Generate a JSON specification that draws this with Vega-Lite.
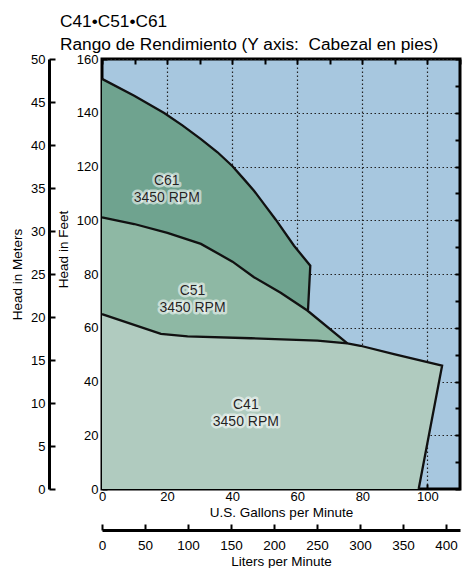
{
  "$schema": "https://vega.github.io/schema/vega-lite/v6.json",
  "width": 358,
  "height": 430,
  "padding": {"left": 10, "top": 12, "right": 5, "bottom": 5},
  "background": "white",
  "config": {
    "font": "Liberation Sans",
    "view": {"stroke": "black", "strokeWidth": 3, "fill": "#a7c7df"},
    "axis": {
      "labelFont": "Liberation Sans", "labelFontSize": 13, "labelColor": "black",
      "titleFont": "Liberation Sans", "titleFontSize": 13.5, "titleFontWeight": "normal", "titleColor": "black",
      "tickColor": "black", "tickWidth": 2, "domainColor": "black", "domainWidth": 3, "zindex": 1, "labelFlush": false
    }
  },
  "title": {
    "text": ["C41•C51•C61", "Rango de Rendimiento (Y axis:\u00a0 Cabezal en pies)"],
    "anchor": "start", "frame": "group", "dx": -42, "fontSize": 17.3, "fontWeight": "normal",
    "font": "Liberation Sans", "lineHeight": 23, "offset": 0, "color": "black"
  },
  "datasets": {
    "areas": [
      {"region": "C61", "gpm": 0, "top": 152.6, "bottom": 0},
      {"region": "C61", "gpm": 9.9, "top": 146.3, "bottom": 0},
      {"region": "C61", "gpm": 19.1, "top": 139.9, "bottom": 0},
      {"region": "C61", "gpm": 24.7, "top": 135.3, "bottom": 0},
      {"region": "C61", "gpm": 30.4, "top": 130.2, "bottom": 0},
      {"region": "C61", "gpm": 35.5, "top": 125.3, "bottom": 0},
      {"region": "C61", "gpm": 40.1, "top": 120.1, "bottom": 0},
      {"region": "C61", "gpm": 43.6, "top": 115.3, "bottom": 0},
      {"region": "C61", "gpm": 46.7, "top": 111.0, "bottom": 0},
      {"region": "C61", "gpm": 49.8, "top": 106.0, "bottom": 0},
      {"region": "C61", "gpm": 53.4, "top": 100.2, "bottom": 0},
      {"region": "C61", "gpm": 59.0, "top": 90.5, "bottom": 0},
      {"region": "C61", "gpm": 63.3, "top": 84.1, "bottom": 66.6},
      {"region": "C61", "gpm": 64.0, "top": 83.1, "bottom": 83.1},
      {"region": "C51", "gpm": 0, "top": 101.1, "bottom": 0},
      {"region": "C51", "gpm": 9.9, "top": 98.6, "bottom": 0},
      {"region": "C51", "gpm": 20.1, "top": 95.3, "bottom": 0},
      {"region": "C51", "gpm": 30.4, "top": 91.2, "bottom": 0},
      {"region": "C51", "gpm": 40.1, "top": 84.6, "bottom": 0},
      {"region": "C51", "gpm": 46.7, "top": 78.8, "bottom": 0},
      {"region": "C51", "gpm": 54.9, "top": 73.0, "bottom": 0},
      {"region": "C51", "gpm": 63.1, "top": 66.4, "bottom": 0},
      {"region": "C51", "gpm": 75.4, "top": 54.2, "bottom": 0},
      {"region": "C41", "gpm": 0, "top": 65.1, "bottom": 0},
      {"region": "C41", "gpm": 18.1, "top": 57.7, "bottom": 0},
      {"region": "C41", "gpm": 26.3, "top": 56.8, "bottom": 0},
      {"region": "C41", "gpm": 45.7, "top": 56.1, "bottom": 0},
      {"region": "C41", "gpm": 66.2, "top": 55.2, "bottom": 0},
      {"region": "C41", "gpm": 75.4, "top": 54.2, "bottom": 0},
      {"region": "C41", "gpm": 79.4, "top": 53.3, "bottom": 0},
      {"region": "C41", "gpm": 89.7, "top": 50.2, "bottom": 0},
      {"region": "C41", "gpm": 97.3, "top": 48.0, "bottom": 0},
      {"region": "C41", "gpm": 104.5, "top": 45.9, "bottom": 45.9}
    ],
    "outlines": [
      {"curve": "C61", "i": 0, "gpm": 0, "ft": 152.6},
      {"curve": "C61", "i": 1, "gpm": 9.9, "ft": 146.3},
      {"curve": "C61", "i": 2, "gpm": 19.1, "ft": 139.9},
      {"curve": "C61", "i": 3, "gpm": 24.7, "ft": 135.3},
      {"curve": "C61", "i": 4, "gpm": 30.4, "ft": 130.2},
      {"curve": "C61", "i": 5, "gpm": 35.5, "ft": 125.3},
      {"curve": "C61", "i": 6, "gpm": 40.1, "ft": 120.1},
      {"curve": "C61", "i": 7, "gpm": 43.6, "ft": 115.3},
      {"curve": "C61", "i": 8, "gpm": 46.7, "ft": 111.0},
      {"curve": "C61", "i": 9, "gpm": 49.8, "ft": 106.0},
      {"curve": "C61", "i": 10, "gpm": 53.4, "ft": 100.2},
      {"curve": "C61", "i": 11, "gpm": 59.0, "ft": 90.5},
      {"curve": "C61", "i": 12, "gpm": 64.0, "ft": 83.1},
      {"curve": "C61", "i": 13, "gpm": 63.3, "ft": 66.6},
      {"curve": "C51", "i": 0, "gpm": 0, "ft": 101.1},
      {"curve": "C51", "i": 1, "gpm": 9.9, "ft": 98.6},
      {"curve": "C51", "i": 2, "gpm": 20.1, "ft": 95.3},
      {"curve": "C51", "i": 3, "gpm": 30.4, "ft": 91.2},
      {"curve": "C51", "i": 4, "gpm": 40.1, "ft": 84.6},
      {"curve": "C51", "i": 5, "gpm": 46.7, "ft": 78.8},
      {"curve": "C51", "i": 6, "gpm": 54.9, "ft": 73.0},
      {"curve": "C51", "i": 7, "gpm": 63.1, "ft": 66.4},
      {"curve": "C51", "i": 8, "gpm": 75.4, "ft": 54.2},
      {"curve": "C41", "i": 0, "gpm": 0, "ft": 65.1},
      {"curve": "C41", "i": 1, "gpm": 18.1, "ft": 57.7},
      {"curve": "C41", "i": 2, "gpm": 26.3, "ft": 56.8},
      {"curve": "C41", "i": 3, "gpm": 45.7, "ft": 56.1},
      {"curve": "C41", "i": 4, "gpm": 66.2, "ft": 55.2},
      {"curve": "C41", "i": 5, "gpm": 75.4, "ft": 54.2},
      {"curve": "C41", "i": 6, "gpm": 79.4, "ft": 53.3},
      {"curve": "C41", "i": 7, "gpm": 89.7, "ft": 50.2},
      {"curve": "C41", "i": 8, "gpm": 104.5, "ft": 45.9},
      {"curve": "C41", "i": 9, "gpm": 97.3, "ft": 0}
    ],
    "labels": [
      {"name": "C61", "gpm": 19.9, "ft": 114.7, "txt": "C61\n3450 RPM"},
      {"name": "C51", "gpm": 27.8, "ft": 73.6, "txt": "C51\n3450 RPM"},
      {"name": "C41", "gpm": 44.2, "ft": 31.4, "txt": "C41\n3450 RPM"}
    ],
    "gpmframe": [{"a": 0, "b": 0}, {"a": 110, "b": 160}],
    "metric": [{"l": 0, "m": 0}, {"l": 416.4, "m": 50}]
  },
  "layer": [
    {
      "layer": [
        {
          "data": {"name": "areas"},
          "transform": [{"filter": "datum.region === 'C61'"}],
          "mark": {"type": "area", "color": "#6fa38f", "opacity": 1},
          "encoding": {
            "x": {"field": "gpm", "type": "quantitative", "scale": {"domain": [0, 110], "nice": false, "zero": false},
              "axis": {"orient": "bottom", "values": [0, 10, 20, 30, 40, 50, 60, 70, 80, 90, 100, 110],
                "labelExpr": "datum.value % 20 === 0 ? datum.label : ''", "tickSize": -5, "labelPadding": 6,
                "domain": false, "grid": true, "gridColor": "#222", "gridDash": [1.5, 2.5], "gridWidth": 1.2,
                "gridOpacity": {"condition": {"test": "datum.value % 20 !== 0 || datum.value === 0", "value": 0}, "value": 1},
                "title": "U.S. Gallons per Minute", "titlePadding": 2}},
            "y": {"field": "top", "type": "quantitative", "stack": null, "scale": {"domain": [0, 160], "nice": false, "zero": false},
              "axis": {"orient": "left", "values": [0, 10, 20, 30, 40, 50, 60, 70, 80, 90, 100, 110, 120, 130, 140, 150, 160],
                "labelExpr": "datum.value % 20 === 0 ? datum.label : ''", "tickSize": -5, "labelPadding": 9,
                "domain": false, "grid": true, "gridColor": "#222", "gridDash": [1.5, 2.5], "gridWidth": 1.2,
                "gridOpacity": {"condition": {"test": "datum.value % 20 !== 0 || datum.value === 0", "value": 0}, "value": 1},
                "title": "Head in Feet", "titlePadding": 6, "titleY": 190}},
            "y2": {"field": "bottom"}
          }
        },
        {
          "data": {"name": "areas"},
          "transform": [{"filter": "datum.region === 'C51'"}],
          "mark": {"type": "area", "color": "#8eb8a4", "opacity": 1},
          "encoding": {
            "x": {"field": "gpm", "type": "quantitative"},
            "y": {"field": "top", "type": "quantitative", "stack": null},
            "y2": {"field": "bottom"}
          }
        },
        {
          "data": {"name": "areas"},
          "transform": [{"filter": "datum.region === 'C41'"}],
          "mark": {"type": "area", "color": "#b0cbbf", "opacity": 1},
          "encoding": {
            "x": {"field": "gpm", "type": "quantitative"},
            "y": {"field": "top", "type": "quantitative", "stack": null},
            "y2": {"field": "bottom"}
          }
        },
        {
          "data": {"name": "outlines"},
          "mark": {"type": "line", "color": "#111", "strokeWidth": 2.3, "strokeJoin": "miter"},
          "encoding": {
            "x": {"field": "gpm", "type": "quantitative"},
            "y": {"field": "ft", "type": "quantitative"},
            "detail": {"field": "curve"},
            "order": {"field": "i", "type": "quantitative"}
          }
        },
        {
          "data": {"name": "labels"},
          "mark": {"type": "text", "lineBreak": "\n", "fontSize": 14, "lineHeight": 17, "font": "Liberation Sans",
            "stroke": "white", "strokeWidth": 5, "strokeOpacity": 0.55, "strokeJoin": "round", "color": "white"},
          "encoding": {
            "x": {"field": "gpm", "type": "quantitative"},
            "y": {"field": "ft", "type": "quantitative"},
            "text": {"field": "txt"}
          }
        },
        {
          "data": {"name": "labels"},
          "mark": {"type": "text", "lineBreak": "\n", "fontSize": 14, "lineHeight": 17, "font": "Liberation Sans", "color": "#222"},
          "encoding": {
            "x": {"field": "gpm", "type": "quantitative"},
            "y": {"field": "ft", "type": "quantitative"},
            "text": {"field": "txt"}
          }
        }
      ]
    },
    {
      "data": {"name": "gpmframe"},
      "mark": {"type": "point", "opacity": 0, "size": 0},
      "encoding": {
        "x": {"field": "a", "type": "quantitative", "scale": {"domain": [0, 110], "nice": false, "zero": false},
          "axis": {"orient": "top", "values": [0, 10, 20, 30, 40, 50, 60, 70, 80, 90, 100, 110], "labels": false,
            "tickSize": -5, "domain": false, "grid": false, "title": null}},
        "y": {"field": "b", "type": "quantitative", "scale": {"domain": [0, 160], "nice": false, "zero": false},
          "axis": {"orient": "right", "values": [0, 10, 20, 30, 40, 50, 60, 70, 80, 90, 100, 110, 120, 130, 140, 150, 160], "labels": false,
            "tickSize": -5, "domain": false, "grid": false, "title": null}}
      }
    },
    {
      "data": {"name": "metric"},
      "mark": {"type": "point", "opacity": 0, "size": 0},
      "encoding": {
        "x": {"field": "l", "type": "quantitative", "scale": {"domain": [0, 416.4], "nice": false, "zero": false},
          "axis": {"orient": "bottom", "offset": 41, "values": [0, 50, 100, 150, 200, 250, 300, 350, 400],
            "tickSize": -6, "labelPadding": 14, "domain": true, "grid": false, "title": "Liters per Minute", "titlePadding": 3,
            "labelFontSize": 13.5}},
        "y": {"field": "m", "type": "quantitative", "scale": {"domain": [0, 50], "nice": false, "zero": false},
          "axis": {"orient": "left", "offset": 53, "values": [0, 5, 10, 15, 20, 25, 30, 35, 40, 45, 50],
            "tickSize": -6, "labelPadding": 10, "domain": true, "grid": false, "title": "Head in Meters", "titlePadding": 6}}
      }
    }
  ],
  "resolve": {"scale": {"x": "independent", "y": "independent"}, "axis": {"x": "independent", "y": "independent"}}
}
